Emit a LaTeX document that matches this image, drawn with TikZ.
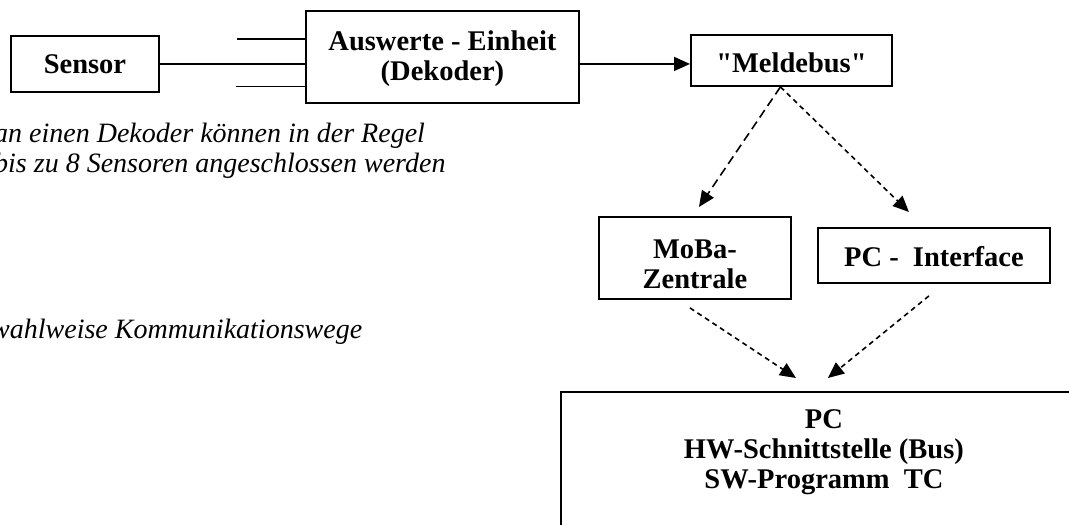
\documentclass[tikz,border=0pt]{standalone}
\usepackage{fontspec}
\setmainfont{Liberation Serif}
\usetikzlibrary{arrows.meta}
\tikzset{
  box/.style={draw, line width=1.9pt, inner xsep=0pt, inner ysep=0pt, align=center,
    anchor=north west, font=\fontsize{28.5}{30}\selectfont\bfseries},
  note/.style={anchor=base west, align=left, inner sep=0pt,
    font=\fontsize{28}{30}\selectfont\itshape},
  wire/.style={line width=1.6pt},
  tip/.style={-{Triangle[length=16pt,width=14pt]}},
  longdash/.style={wire, tip, dash pattern=on 9pt off 5pt},
  shortdash/.style={wire, tip, dash pattern=on 5pt off 4pt}
}
\begin{document}
\begin{tikzpicture}[x=1pt,y=-1pt]
\useasboundingbox (0,0) rectangle (1069,525);
\clip (0,0) rectangle (1069,525);
% boxes (text height = top to last baseline)
\node[box, minimum width=148pt, text height=38pt, text depth=18pt] (sensor) at (10,35) {Sensor};
\node[box, minimum width=273pt, text height=70pt, text depth=22pt] (aus) at (305,10) {Auswerte - Einheit\\(Dekoder)};
\node[box, minimum width=201pt, text height=38pt, text depth=13pt] (meld) at (690,34) {\textquotedbl Meldebus\textquotedbl};
\node[box, minimum width=192pt, text height=72pt, text depth=10pt] (moba) at (598,216) {MoBa-\\Zentrale};
\node[box, minimum width=232pt, text height=39pt, text depth=16pt] (pci) at (817,227) {PC -\ \ Interface};
\node[box, minimum width=526pt, text height=97pt, text depth=60pt] (pc) at (560,391) {PC\\HW-Schnittstelle (Bus)\\SW-Programm\ \ TC};
% notes
\node[note] (n1) at (-6,172) {an einen Dekoder können in der Regel\\bis zu 8 Sensoren angeschlossen werden};
\node[note] (n2) at (-9,338) {wahlweise Kommunikationswege};
% sensor inputs
\coordinate (in1) at (237,39);
\coordinate (in3) at (236,86.5);
\draw[wire] (in1) -- (aus.west |- in1);
\draw[wire] (sensor.east) -- (aus.west |- sensor.east);
\draw[wire] (in3) -- (aus.west |- in3);
% bus
\draw[wire, tip] (aus.east |- sensor.east) -- (meld.west |- sensor.east);
% dashed
\draw[longdash] ([xshift=-11pt]meld.south) -- ([xshift=4pt,yshift=9pt]moba.north);
\draw[shortdash] ([xshift=-11pt]meld.south) -- ([xshift=-25pt,yshift=15pt]pci.north);
\draw[shortdash] ([xshift=-5pt,yshift=-8pt]moba.south) -- ([xshift=-28pt,yshift=13pt]pc.north);
\draw[shortdash] ([xshift=-5pt,yshift=-12pt]pci.south) -- ([xshift=4pt,yshift=13pt]pc.north);
\end{tikzpicture}
\end{document}
